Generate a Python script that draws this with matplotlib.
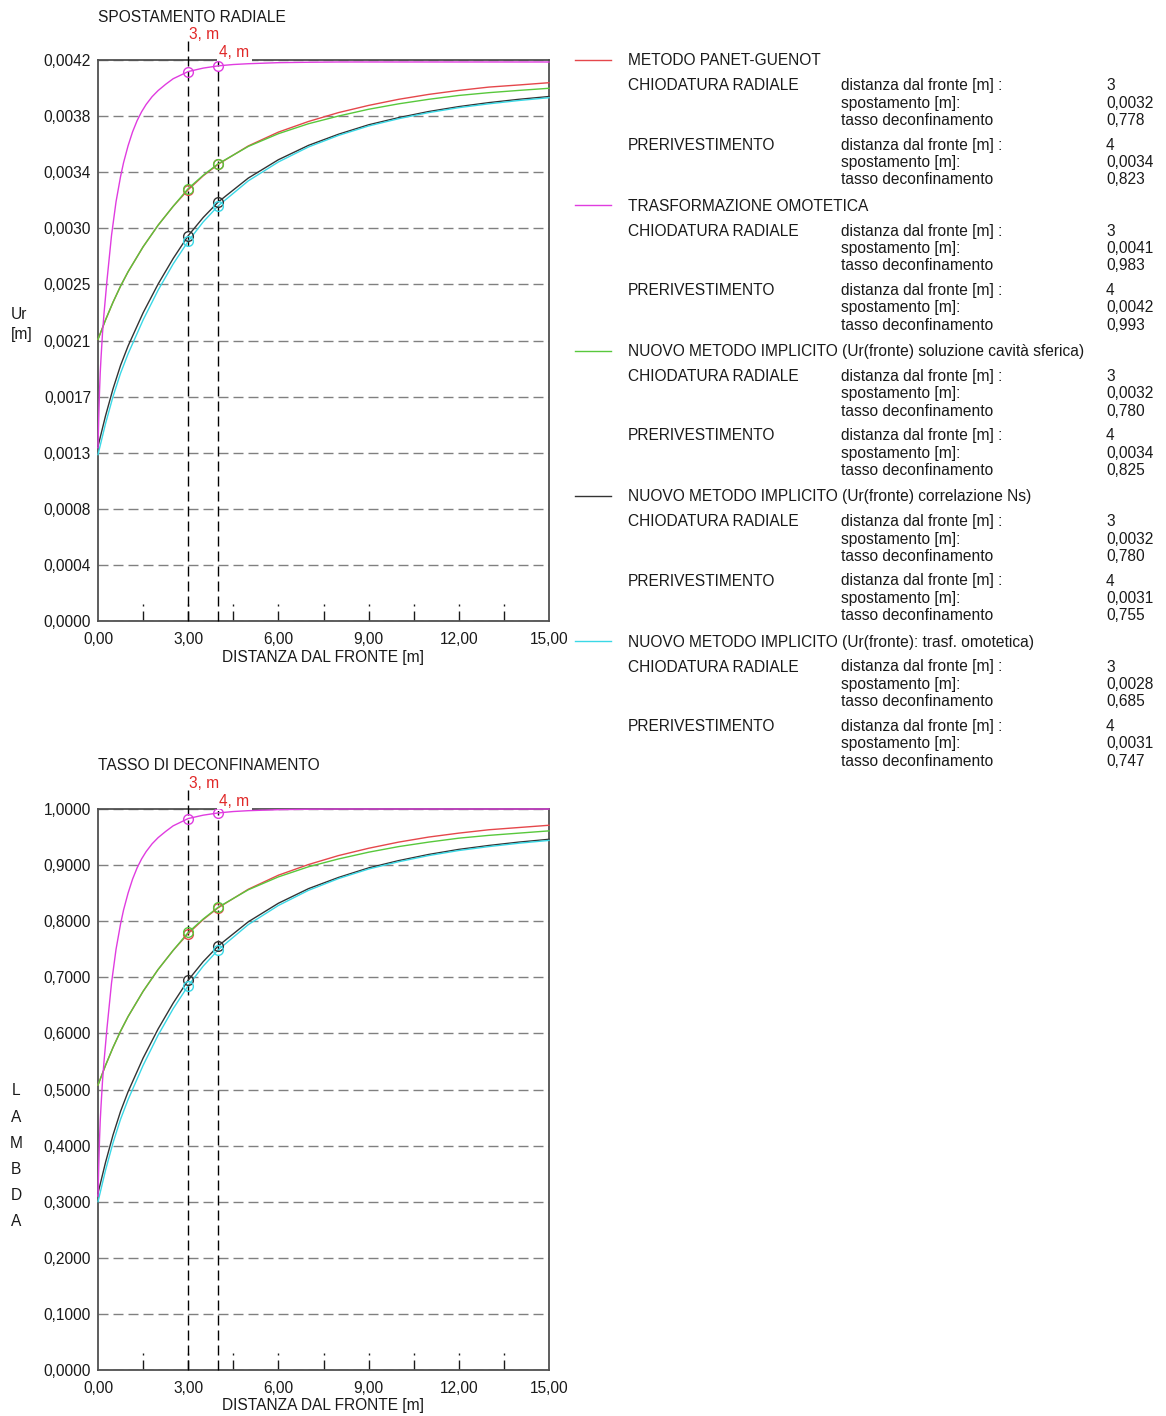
import numpy as np
import matplotlib
matplotlib.use("Agg")
import matplotlib.pyplot as plt
from matplotlib.transforms import blended_transform_factory

plt.rcParams['font.family'] = ['Liberation Sans', 'DejaVu Sans']

# ---------------- data ----------------
DIST = [0, 0.25, 0.5, 0.75, 1, 1.5, 2, 2.5, 3, 3.5, 4, 5, 6, 7, 8, 9, 10, 11, 12, 13, 14, 15]
DIST_OMOT = [0, 0.025, 0.05, 0.075, 0.1, 0.15, 0.2, 0.3, 0.45, 0.6, 0.75, 0.85, 1.0, 1.15, 1.3, 1.45,
             1.6, 1.8, 2.0, 2.25, 2.5, 2.75, 3.0, 3.5, 4.0, 4.5, 5, 6, 7, 8, 15]

# spostamento radiale Ur [m]
UR_PANET = [0.002121, 0.002267, 0.002401, 0.002522, 0.002630, 0.002818, 0.002981, 0.003123, 0.003248,
            0.003353, 0.003440, 0.003578, 0.003682, 0.003762, 0.003829, 0.003883, 0.003929, 0.003966,
            0.003996, 0.004021, 0.004037, 0.004054]
UR_SFERICA = [0.002121, 0.002267, 0.002401, 0.002522, 0.002630, 0.002818, 0.002981, 0.003123, 0.003257,
              0.003357, 0.003444, 0.003574, 0.003670, 0.003745, 0.003803, 0.003854, 0.003895, 0.003929,
              0.003958, 0.003979, 0.003996, 0.004012]
UR_NS = [0.001315, 0.001545, 0.001749, 0.001925, 0.002071, 0.002321, 0.002538, 0.002730, 0.002902,
         0.003039, 0.003156, 0.003336, 0.003474, 0.003582, 0.003666, 0.003737, 0.003791, 0.003837,
         0.003874, 0.003904, 0.003929, 0.003950]
UR_TRASF = [0.001253, 0.001486, 0.001691, 0.001866, 0.002012, 0.002267, 0.002492, 0.002689, 0.002860,
            0.003006, 0.003127, 0.003315, 0.003457, 0.003570, 0.003657, 0.003728, 0.003783, 0.003829,
            0.003866, 0.003895, 0.003920, 0.003941]
UR_OMOT = [0.001305, 0.001537, 0.001726, 0.001873, 0.001979, 0.002168, 0.002316, 0.002568, 0.002905,
           0.003158, 0.003347, 0.003452, 0.003579, 0.003684, 0.003768, 0.003835, 0.003890, 0.003949,
           0.003995, 0.004042, 0.004084, 0.004111, 0.004138, 0.004164, 0.004181, 0.004191, 0.004197,
           0.004205, 0.004208, 0.004210, 0.004210]

# tasso di deconfinamento lambda
LAM_PANET = [0.508, 0.543, 0.575, 0.604, 0.630, 0.675, 0.714, 0.748, 0.778, 0.803, 0.824, 0.857, 0.882,
             0.901, 0.917, 0.930, 0.941, 0.950, 0.957, 0.963, 0.967, 0.971]
LAM_SFERICA = [0.508, 0.543, 0.575, 0.604, 0.630, 0.675, 0.714, 0.748, 0.780, 0.804, 0.825, 0.856, 0.879,
               0.897, 0.911, 0.923, 0.933, 0.941, 0.948, 0.953, 0.957, 0.961]
LAM_NS = [0.315, 0.370, 0.419, 0.461, 0.496, 0.556, 0.608, 0.654, 0.695, 0.728, 0.756, 0.799, 0.832,
          0.858, 0.878, 0.895, 0.908, 0.919, 0.928, 0.935, 0.941, 0.946]
LAM_TRASF = [0.300, 0.356, 0.405, 0.447, 0.482, 0.543, 0.597, 0.644, 0.685, 0.720, 0.749, 0.794, 0.828,
             0.855, 0.876, 0.893, 0.906, 0.917, 0.926, 0.933, 0.939, 0.944]
LAM_OMOT = [0.310, 0.365, 0.410, 0.445, 0.470, 0.515, 0.550, 0.610, 0.690, 0.750, 0.795, 0.820, 0.850,
            0.875, 0.895, 0.911, 0.924, 0.938, 0.949, 0.960, 0.970, 0.9765, 0.983, 0.989, 0.993, 0.9955,
            0.997, 0.9988, 0.9996, 1.000, 1.000]

MARK_DIST = [3, 4]

METHODS = ["METODO PANET-GUENOT",
           "TRASFORMAZIONE OMOTETICA",
           "NUOVO METODO IMPLICITO (Ur(fronte) soluzione cavità sferica)",
           "NUOVO METODO IMPLICITO (Ur(fronte) correlazione Ns)",
           "NUOVO METODO IMPLICITO (Ur(fronte): trasf. omotetica)"]
CHIOD_DIST = [3, 3, 3, 3, 3]
CHIOD_SPOST = [0.0032, 0.0041, 0.0032, 0.0032, 0.0028]
CHIOD_TASSO = [0.778, 0.983, 0.780, 0.780, 0.685]
PRER_DIST = [4, 4, 4, 4, 4]
PRER_SPOST = [0.0034, 0.0042, 0.0034, 0.0031, 0.0031]
PRER_TASSO = [0.823, 0.993, 0.825, 0.755, 0.747]

Y_TOP_MAX = 0.004225
Y_TOP_LABELS = ["0,0000", "0,0004", "0,0008", "0,0013", "0,0017", "0,0021",
                "0,0025", "0,0030", "0,0034", "0,0038", "0,0042"]
Y_BOT_LABELS = ["0,0000", "0,1000", "0,2000", "0,3000", "0,4000", "0,5000",
                "0,6000", "0,7000", "0,8000", "0,9000", "1,0000"]
X_LABELS = ["0,00", "3,00", "6,00", "9,00", "12,00", "15,00"]
X_MINOR = [1.5, 3, 4.5, 6, 7.5, 9, 10.5, 12, 13.5]

# ---------------- style ----------------
C_RED = '#e5474b'
C_MAG = '#e03ce0'
C_GRN = '#58c83c'
C_BLK = '#333333'
C_CYA = '#3ad8e6'
COLORS = [C_RED, C_MAG, C_GRN, C_BLK, C_CYA]
TXT = '#1a1a1a'
FS = 11.2
DASH = (0, (7.2, 3.6))

W, H = 1166, 1416
fig = plt.figure(figsize=(W / 100, H / 100), dpi=100)


def fx(x):
    return x / W


def fy(y):
    return 1 - y / H


def ftext(x, y, s, **kw):
    kw.setdefault('fontsize', FS)
    kw.setdefault('color', TXT)
    kw.setdefault('va', 'center')
    fig.text(fx(x), fy(y + 1.8), s, **kw)


def make_axes(top_px, series, ymax, ylabels):
    ax = fig.add_axes([fx(98), fy(top_px + 561), 451 / W, 561 / H])
    ax.set_xlim(0, 15)
    ax.set_ylim(0, ymax)
    for sp in ax.spines.values():
        sp.set_color('#505050')
        sp.set_linewidth(1.3)
    ax.set_yticks(np.linspace(0, ymax, 11))
    ax.set_yticklabels(ylabels)
    ax.set_xticks([0, 3, 6, 9, 12, 15])
    ax.set_xticklabels(X_LABELS)
    ax.tick_params(axis='both', length=0, labelsize=FS, labelcolor=TXT)
    ax.tick_params(axis='y', pad=5)
    ax.tick_params(axis='x', pad=8)
    ax.yaxis.grid(True, linestyle=DASH, color='#808080', linewidth=1)
    ax.set_axisbelow(True)
    tr = blended_transform_factory(ax.transData, ax.transAxes)
    # dashed minor ticks
    for xm in X_MINOR:
        ax.plot([xm, xm], [0, 17 / 561], transform=tr, color=TXT, lw=1, ls=DASH, zorder=2)
    # vertical reference lines
    ax.plot([3, 3], [0, 1.036], transform=tr, color='black', lw=1, ls=DASH, clip_on=False, zorder=3)
    ax.plot([4, 4], [0, 1.0], transform=tr, color='black', lw=1, ls=DASH, clip_on=False, zorder=3)
    ax.text(3.03, 1.046, "3, m", transform=tr, color='#e02828', fontsize=FS, va='center', ha='left',
            clip_on=False, zorder=1)
    ax.text(4.03, 1.014, "4, m", transform=tr, color='#e02828', fontsize=FS, va='center', ha='left',
            clip_on=False, zorder=3.5, bbox=dict(facecolor='white', edgecolor='none', pad=1.8))
    for xs, ys, c in series:
        ax.plot(xs, ys, color=c, lw=1.0, zorder=4, clip_on=False)
        my = [ys[xs.index(d)] for d in MARK_DIST]
        ax.plot(MARK_DIST, my, ls='none', marker='o', ms=7, mfc='none', mec=c, mew=1.0, zorder=6)
    return ax


series_top = [(DIST, UR_PANET, C_RED), (DIST, UR_SFERICA, C_GRN), (DIST, UR_NS, C_BLK),
              (DIST, UR_TRASF, C_CYA), (DIST_OMOT, UR_OMOT, C_MAG)]
series_bot = [(DIST, LAM_PANET, C_RED), (DIST, LAM_SFERICA, C_GRN), (DIST, LAM_NS, C_BLK),
              (DIST, LAM_TRASF, C_CYA), (DIST_OMOT, LAM_OMOT, C_MAG)]

ax1 = make_axes(60, series_top, Y_TOP_MAX, Y_TOP_LABELS)
ax2 = make_axes(809, series_bot, 1.0, Y_BOT_LABELS)

# titles and axis labels
ftext(98, 16, "SPOSTAMENTO RADIALE")
ftext(98, 764, "TASSO DI DECONFINAMENTO")
ftext(323, 656, "DISTANZA DAL FRONTE [m]", ha='center')
ftext(323, 1404, "DISTANZA DAL FRONTE [m]", ha='center')
ftext(11, 313, "Ur")
ftext(11, 333, "[m]")
for i, ch in enumerate("LAMBDA"):
    ftext(16, 1089 + 26.2 * i, ch, ha='center')

# legend / results table
for i, name in enumerate(METHODS):
    y0 = 59 + 145.3 * i
    fig.add_artist(plt.Line2D([fx(575), fx(611)], [fy(y0 + 1), fy(y0 + 1)], color=COLORS[i], lw=1.0))
    ftext(628, y0, name)
    for j, (lab, d, s, t) in enumerate([("CHIODATURA RADIALE", CHIOD_DIST[i], CHIOD_SPOST[i], CHIOD_TASSO[i]),
                                         ("PRERIVESTIMENTO", PRER_DIST[i], PRER_SPOST[i], PRER_TASSO[i])]):
        yb = y0 + 25 + 59.3 * j
        ftext(628, yb, lab)
        ftext(841, yb, "distanza dal fronte [m] :")
        ftext(841, yb + 17.4, "spostamento [m]:")
        ftext(841, yb + 34.8, "tasso deconfinamento")
        ftext(1106, yb, f"{d}")
        ftext(1106, yb + 17.4, f"{s:.4f}".replace('.', ','))
        ftext(1106, yb + 34.8, f"{t:.3f}".replace('.', ','))

fig.savefig("out.png", dpi=100, facecolor='white')
